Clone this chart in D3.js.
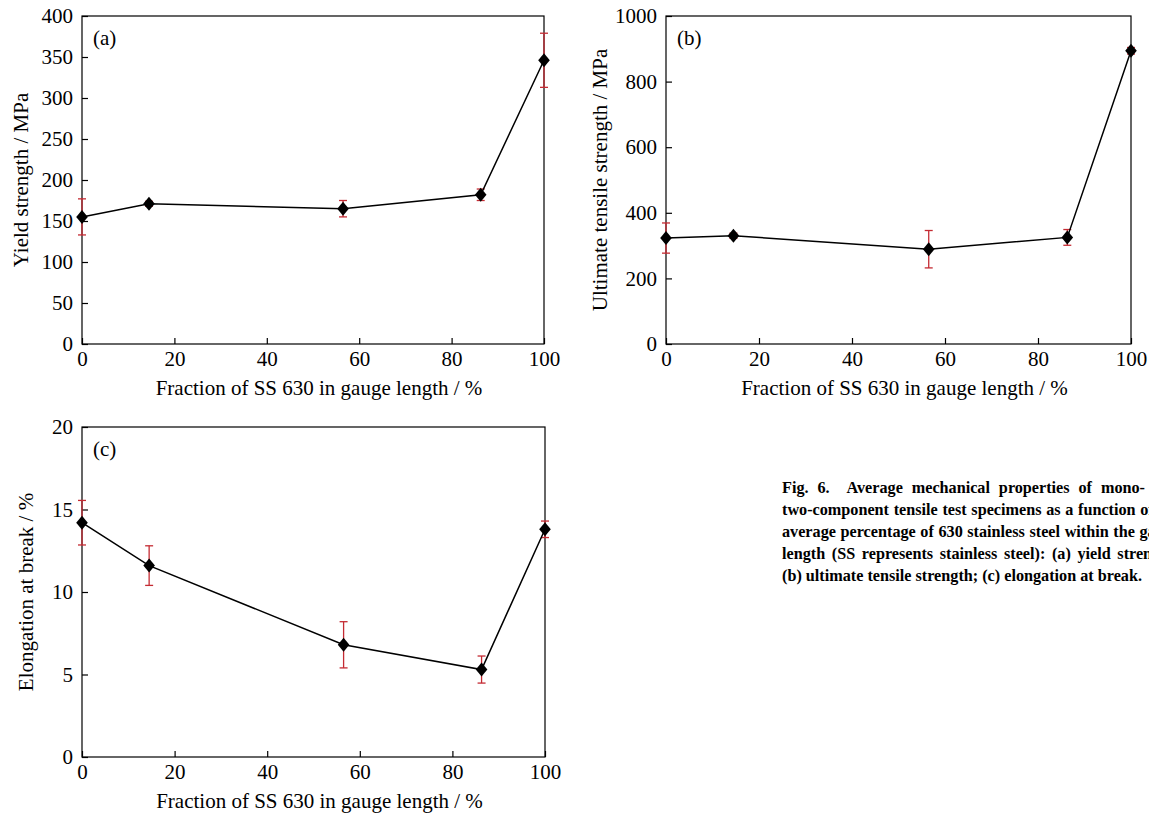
<!DOCTYPE html>
<html>
<head>
<meta charset="utf-8">
<script src="https://cdn.jsdelivr.net/npm/d3@7"></script>
<style>
  html, body { margin: 0; padding: 0; background: #fff; }
  svg { display: block; }
  text { font-family: "Liberation Serif", "Times New Roman", serif; fill: #000; }
</style>
</head>
<body>
<svg id="chart" width="1149" height="816"></svg>
<script>
// ---------------- data ----------------
const fractions = [0, 14.5, 56.5, 86.3, 100];
const xTicks = [0, 20, 40, 60, 80, 100];

const yieldStrength = [155, 171, 165, 182, 346];
const yieldErr = [22, 3, 10, 7, 33];
const yieldTicks = [0, 50, 100, 150, 200, 250, 300, 350, 400];

const utsValues = [323, 330, 289, 325, 894];
const utsErr = [46, 8, 57, 24, 10];
const utsTicks = [0, 200, 400, 600, 800, 1000];

const elongation = [14.2, 11.6, 6.8, 5.3, 13.8];
const elongationErr = [1.35, 1.2, 1.4, 0.82, 0.5];
const elongTicks = [0, 5, 10, 15, 20];

const xTitle = "Fraction of SS 630 in gauge length / %";
const captionLines = [
  "Fig. 6.  Average mechanical properties of mono- and",
  "two-component tensile test specimens as a function of the",
  "average percentage of 630 stainless steel within the gauge",
  "length (SS represents stainless steel): (a) yield strength;",
  "(b) ultimate tensile strength; (c) elongation at break."
];

// ---------------- drawing ----------------
const svg = d3.select("#chart");
const FS = 21;
const errColor = "#c42b33";

function panel(cfg) {
  const g = svg.append("g");
  const x = d3.scaleLinear().domain([0, 100]).range([cfg.left, cfg.right]);
  const y = d3.scaleLinear().domain(cfg.yDomain).range([cfg.bottom, cfg.top]);

  // frame
  g.append("rect")
    .attr("x", cfg.left).attr("y", cfg.top)
    .attr("width", cfg.right - cfg.left).attr("height", cfg.bottom - cfg.top)
    .attr("fill", "none").attr("stroke", "#000").attr("stroke-width", 1.2);

  // x axis
  const xa = g.append("g").attr("transform", `translate(0,${cfg.bottom})`)
    .call(d3.axisBottom(x).tickValues(xTicks).tickSizeInner(-6).tickSizeOuter(0).tickPadding(7).tickFormat(d3.format("d")));
  xa.select(".domain").remove();
  xa.selectAll("line").attr("stroke", "#000").attr("stroke-width", 1.2);
  xa.selectAll("text").attr("font-size", FS).attr("font-family", "Liberation Serif");

  // y axis
  const ya = g.append("g").attr("transform", `translate(${cfg.left},0)`)
    .call(d3.axisLeft(y).tickValues(cfg.yTicks).tickSizeInner(-6).tickSizeOuter(0).tickPadding(9).tickFormat(d3.format("d")));
  ya.select(".domain").remove();
  ya.selectAll("line").attr("stroke", "#000").attr("stroke-width", 1.2);
  ya.selectAll("text").attr("font-size", FS).attr("font-family", "Liberation Serif");

  // titles
  g.append("text")
    .attr("x", (cfg.left + cfg.right) / 2 + 6).attr("y", cfg.bottom + 51)
    .attr("text-anchor", "middle").attr("font-size", FS).text(xTitle);
  g.append("text")
    .attr("transform", `translate(${cfg.yTitleX},${(cfg.top + cfg.bottom) / 2}) rotate(-90)`)
    .attr("text-anchor", "middle").attr("font-size", FS).text(cfg.yTitle);
  g.append("text")
    .attr("x", cfg.left + 11).attr("y", cfg.top + 29)
    .attr("font-size", FS).text(cfg.label);

  const pts = fractions.map((f, i) => ({ f, v: cfg.values[i], e: cfg.errors[i] }));

  // error bars
  const eb = g.append("g").attr("stroke", errColor).attr("stroke-width", 1.3);
  pts.forEach(p => {
    eb.append("line").attr("x1", x(p.f)).attr("x2", x(p.f)).attr("y1", y(p.v - p.e)).attr("y2", y(p.v + p.e));
    eb.append("line").attr("x1", x(p.f) - 4).attr("x2", x(p.f) + 4).attr("y1", y(p.v - p.e)).attr("y2", y(p.v - p.e));
    eb.append("line").attr("x1", x(p.f) - 4).attr("x2", x(p.f) + 4).attr("y1", y(p.v + p.e)).attr("y2", y(p.v + p.e));
  });

  // line
  g.append("path").datum(pts)
    .attr("fill", "none").attr("stroke", "#000").attr("stroke-width", 1.5)
    .attr("d", d3.line().x(p => x(p.f)).y(p => y(p.v)));

  // markers
  g.selectAll(null).data(pts).enter().append("path")
    .attr("transform", p => `translate(${x(p.f)},${y(p.v)})`)
    .attr("d", "M0,-7L5.8,0L0,7L-5.8,0Z")
    .attr("fill", "#000");
}

panel({ left: 82, right: 544, top: 16, bottom: 344, yDomain: [0, 400], yTicks: yieldTicks,
        values: yieldStrength, errors: yieldErr, yTitle: "Yield strength / MPa", yTitleX: 28, label: "(a)" });
panel({ left: 666, right: 1131, top: 16, bottom: 344, yDomain: [0, 1000], yTicks: utsTicks,
        values: utsValues, errors: utsErr, yTitle: "Ultimate tensile strength / MPa", yTitleX: 607, label: "(b)" });
panel({ left: 82, right: 545, top: 427, bottom: 757, yDomain: [0, 20], yTicks: elongTicks,
        values: elongation, errors: elongationErr, yTitle: "Elongation at break / %", yTitleX: 33, label: "(c)" });

// caption (justified, clipped at the page edge)
const capX = 782, capY0 = 493, capDY = 22, capW = 398;
captionLines.forEach((line, i) => {
  const t = svg.append("text")
    .attr("x", capX).attr("y", capY0 + i * capDY)
    .attr("font-size", 16.2).attr("font-weight", "bold")
    .style("white-space", "pre")
    .text(line);
  if (i < captionLines.length - 1) {
    const w = t.node().getComputedTextLength();
    const spaces = (line.match(/ /g) || []).length;
    t.attr("word-spacing", Math.max(0, (capW - w) / spaces));
  }
});
</script>
</body>
</html>
